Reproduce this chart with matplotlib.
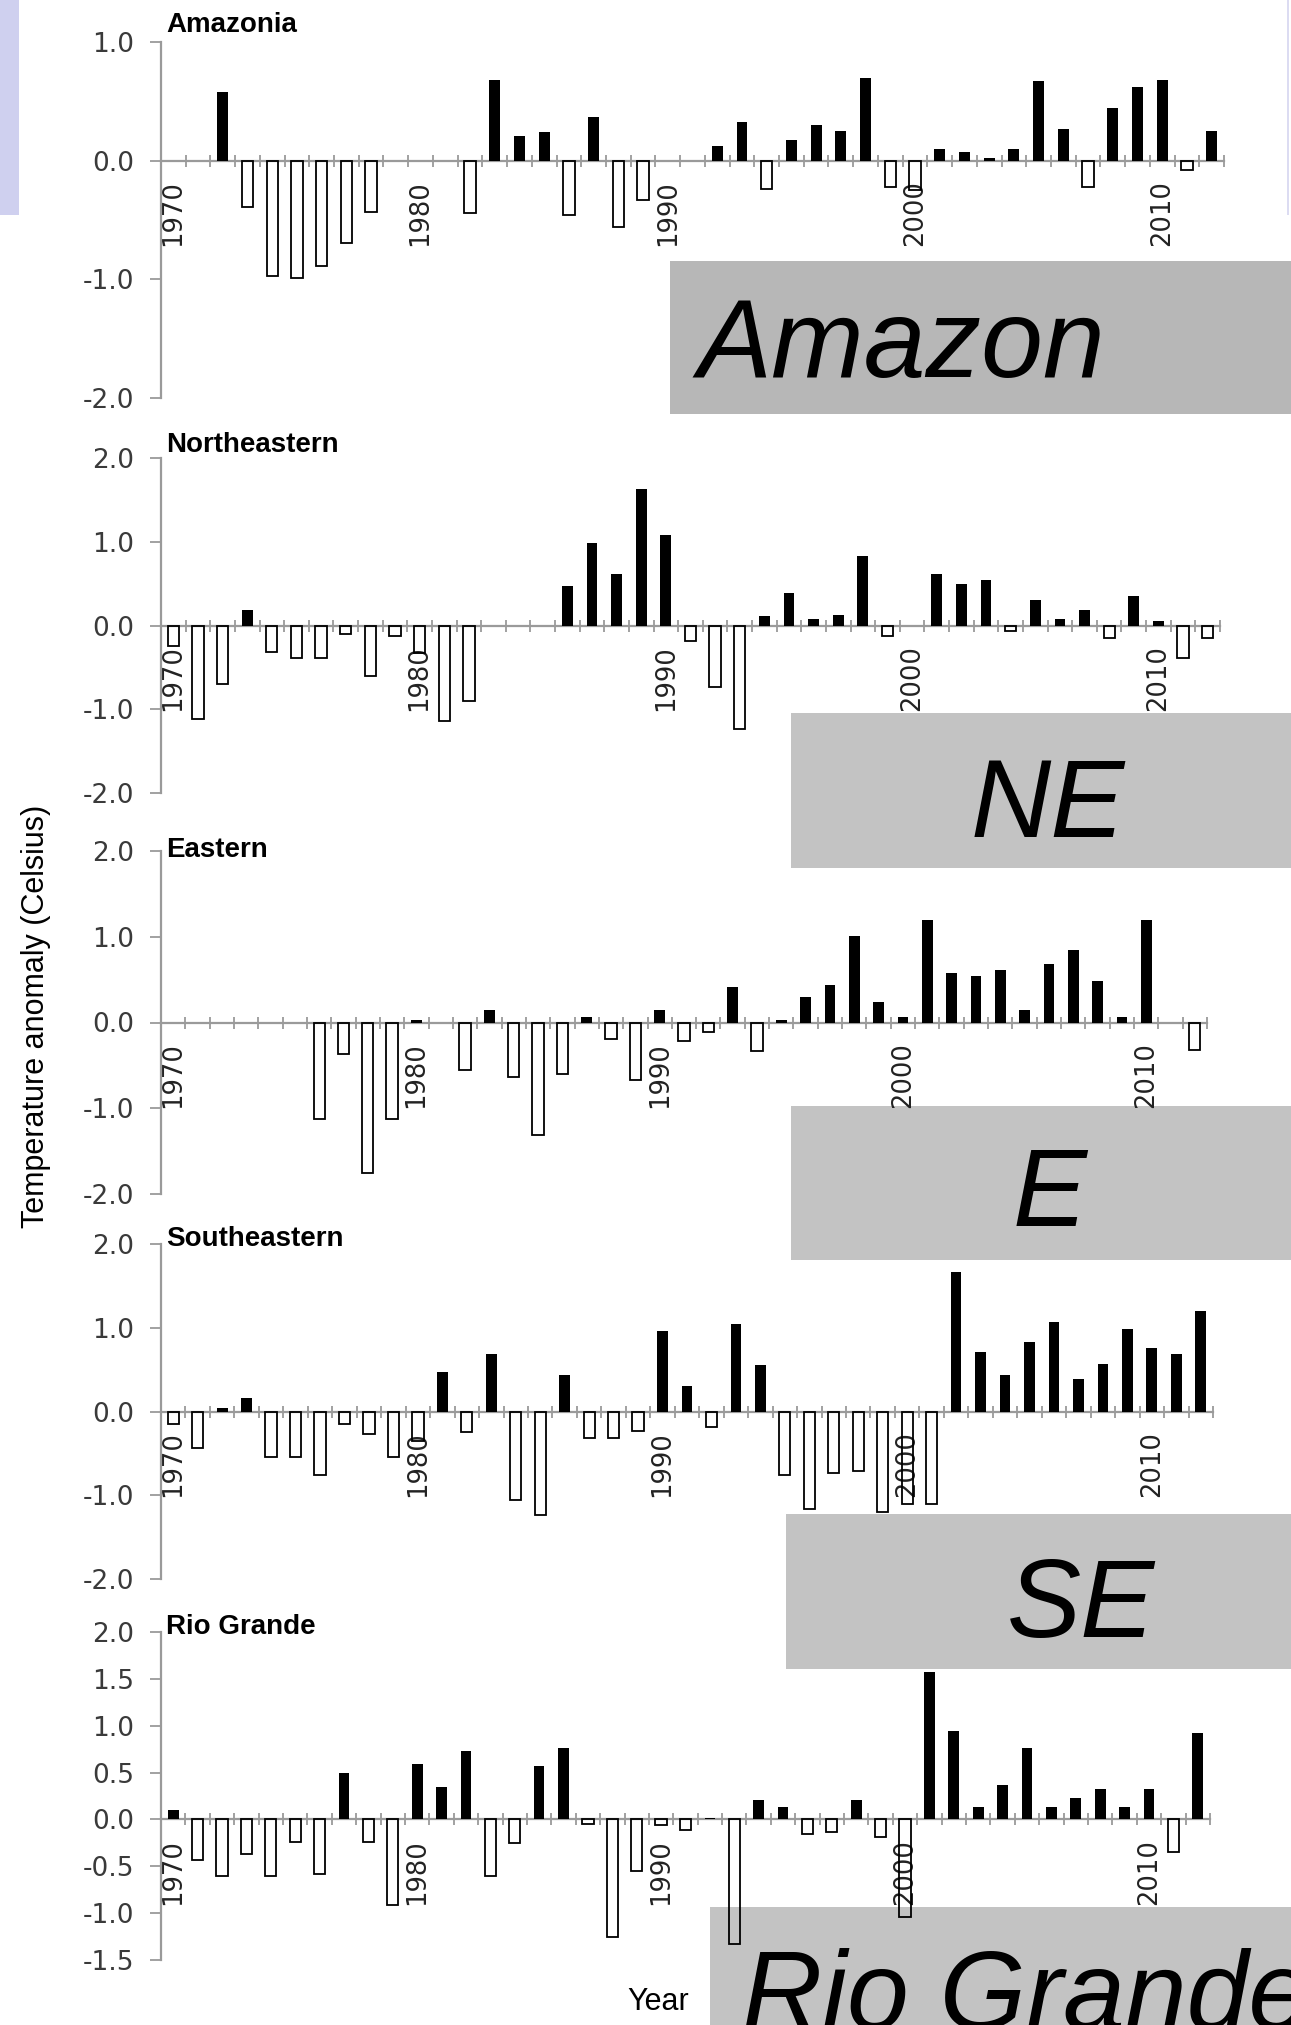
import numpy as np
import matplotlib
matplotlib.use("Agg")
import matplotlib.pyplot as plt
from matplotlib.patches import Rectangle

plt.rcParams["font.family"] = ["Liberation Sans", "DejaVu Sans"]

years = np.arange(1970, 2013)
nan = np.nan

amazonia = [nan, nan, 0.58, -0.39, -0.97, -0.99, -0.89, -0.69, -0.43, nan,
            nan, nan, -0.44, 0.68, 0.21, 0.24, -0.46, 0.37, -0.56, -0.33,
            nan, nan, 0.12, 0.33, -0.24, 0.17, 0.30, 0.25, 0.70, -0.22,
            -0.25, 0.10, 0.07, 0.02, 0.10, 0.67, 0.27, -0.22, 0.44, 0.62,
            0.68, -0.08, 0.25]
northeastern = [-0.25, -1.12, -0.70, 0.18, -0.32, -0.39, -0.39, -0.10, -0.60, -0.12,
                -0.33, -1.14, -0.90, nan, nan, nan, 0.47, 0.98, 0.62, 1.63,
                1.08, -0.19, -0.73, -1.23, 0.11, 0.39, 0.08, 0.13, 0.83, -0.12,
                nan, 0.62, 0.49, 0.54, -0.07, 0.31, 0.08, 0.18, -0.15, 0.35,
                0.05, -0.39, -0.15]
eastern = [nan, nan, nan, nan, nan, nan, -1.13, -0.37, -1.76, -1.13,
           0.03, nan, -0.55, 0.14, -0.63, -1.31, -0.60, 0.06, -0.19, -0.67,
           0.15, -0.22, -0.11, 0.41, -0.33, 0.03, 0.30, 0.44, 1.01, 0.24,
           0.06, 1.20, 0.58, 0.54, 0.61, 0.14, 0.68, 0.84, 0.48, 0.06,
           1.20, nan, -0.32]
southeastern = [-0.15, -0.44, 0.04, 0.16, -0.54, -0.54, -0.76, -0.15, -0.27, -0.54,
                -0.35, 0.47, -0.25, 0.69, -1.06, -1.23, 0.44, -0.32, -0.32, -0.23,
                0.96, 0.30, -0.18, 1.04, 0.55, -0.76, -1.17, -0.74, -0.71, -1.20,
                -1.10, -1.10, 1.66, 0.71, 0.44, 0.83, 1.07, 0.39, 0.57, 0.98,
                0.76, 0.69, 1.20]
rio_grande = [0.10, -0.43, -0.60, -0.37, -0.60, -0.24, -0.58, 0.50, -0.24, -0.91,
              0.59, 0.35, 0.73, -0.60, -0.25, 0.57, 0.76, -0.05, -1.25, -0.55,
              -0.06, -0.11, 0.02, -1.33, 0.21, 0.13, -0.16, -0.13, 0.21, -0.19,
              -1.04, 1.57, 0.94, 0.13, 0.37, 0.76, 0.13, 0.23, 0.33, 0.13,
              0.32, -0.35, 0.92]

titles = ["Amazonia", "Northeastern", "Eastern", "Southeastern", "Rio Grande"]
series = [amazonia, northeastern, eastern, southeastern, rio_grande]
yticks = [[1.0, 0.0, -1.0, -2.0],
          [2.0, 1.0, 0.0, -1.0, -2.0],
          [2.0, 1.0, 0.0, -1.0, -2.0],
          [2.0, 1.0, 0.0, -1.0, -2.0],
          [2.0, 1.5, 1.0, 0.5, 0.0, -0.5, -1.0, -1.5]]
year_labels = [1970, 1980, 1990, 2000, 2010]
box_labels = ["Amazon", "NE", "E", "SE", "Rio Grande"]

W, H = 1291, 2025
fig = plt.figure(figsize=(W / 100, H / 100), dpi=100)

# panel frames in pixels: left, right, top, bottom, title y
frames = [(161, 1224, 42, 398, 25),
          (161, 1220, 458, 793, 445),
          (161, 1207, 851, 1194, 850),
          (161, 1213, 1244, 1579, 1239),
          (161, 1210, 1632, 1960, 1627)]
grey = "#9a9a9a"

for vals, title, ticks, (x0, x1, yt, yb, ty) in zip(series, titles, yticks, frames):
    ax = fig.add_axes([x0 / W, 1 - yb / H, (x1 - x0) / W, (yb - yt) / H])
    ax.set_facecolor("none")
    v = np.array(vals, dtype=float)
    pos = v > 0
    neg = v < 0
    ax.bar(years[pos], v[pos], width=0.44, color="black", zorder=3)
    ax.bar(years[neg], v[neg], width=0.46, facecolor="none", edgecolor="black",
           linewidth=1.3, zorder=3)
    ax.set_xlim(1969.5, 2012.5)
    ax.set_ylim(min(ticks), max(ticks))
    for s in ["top", "right"]:
        ax.spines[s].set_visible(False)
    ax.spines["bottom"].set_position(("data", 0))
    for s in ["left", "bottom"]:
        ax.spines[s].set_color(grey)
        ax.spines[s].set_linewidth(1.6)
    ax.set_yticks(ticks)
    ax.set_yticklabels(["%.1f" % t for t in ticks])
    ax.tick_params(axis="y", direction="out", length=8, width=1.3, color=grey,
                   labelsize=19, labelcolor="#3a3a3a", pad=11)
    ax.set_xticks(year_labels)
    ax.set_xticklabels([str(y) for y in year_labels], rotation=90)
    ax.set_xticks(np.arange(1969.5, 2013, 1.0), minor=True)
    ax.tick_params(axis="x", which="major", length=0, labelsize=18.5,
                   labelcolor="#222222", pad=14)
    ax.tick_params(axis="x", which="minor", direction="inout", length=9,
                   width=1.3, color=grey)
    for lab in ax.get_xticklabels() + ax.get_yticklabels():
        lab.set_family(["DejaVu Sans"])
    fig.text(166 / W, 1 - ty / H, title, fontsize=20, fontweight="bold",
             ha="left", va="center")

# grey label boxes: x, y_top, y_bottom, text x, text baseline, colour
boxes = [(670, 261, 414, 697, 377, "#b7b7b7"),
         (791, 713, 868, 971, 837, "#c3c3c3"),
         (791, 1106, 1260, 1013, 1226, "#c3c3c3"),
         (786, 1514, 1669, 1007, 1637, "#c3c3c3"),
         (710, 1907, 2025, 742, 2029, "#c3c3c3")]
for label, (bx, by0, by1, tx, tb, col) in zip(box_labels, boxes):
    fig.add_artist(Rectangle((bx / W, 1 - by1 / H), (W - bx) / W, (by1 - by0) / H,
                             transform=fig.transFigure, facecolor=col,
                             edgecolor="none", zorder=-2))
    fig.text(tx / W, 1 - tb / H, label, fontsize=80, style="italic",
             ha="left", va="baseline", zorder=-1)

# lavender strip at the top left
fig.add_artist(Rectangle((0, 1 - 215 / H), 19 / W, 215 / H, transform=fig.transFigure,
                         facecolor="#cfd0ef", edgecolor="none", zorder=-2))
fig.add_artist(Rectangle((1287 / W, 1 - 215 / H), 2 / W, 215 / H,
                         transform=fig.transFigure, facecolor="#dcdcf2",
                         edgecolor="none", zorder=-2))

fig.text(36 / W, 1 - 1016 / H, "Temperature anomaly (Celsius)", rotation=90,
         fontsize=22, ha="center", va="center")
fig.text(658 / W, 1 - 2002 / H, "Year", fontsize=22, ha="center", va="center")

fig.savefig("out.png", dpi=100)
